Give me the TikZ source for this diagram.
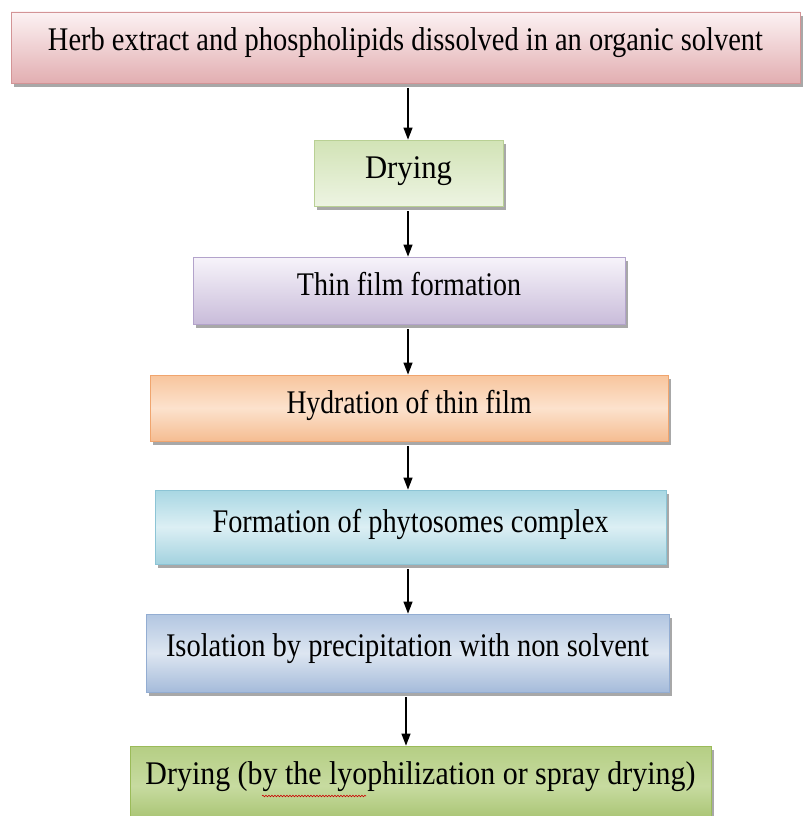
\documentclass[tikz,border=0pt]{standalone}
\usepackage{fontspec}
\setmainfont{Liberation Serif}
\usepackage{graphicx}
\usetikzlibrary{shadows,arrows.meta,decorations.pathmorphing}
\definecolor{pkT}{HTML}{FCF2F3}\definecolor{pkB}{HTML}{E2AEB1}\definecolor{pkD}{HTML}{D39496}
\definecolor{gnT}{HTML}{D2E3B6}\definecolor{gnB}{HTML}{EDF4E2}\definecolor{gnD}{HTML}{B9D094}
\definecolor{puT}{HTML}{F7F4FA}\definecolor{puB}{HTML}{C9BCDA}\definecolor{puD}{HTML}{B3A3CB}
\definecolor{orT}{HTML}{F8C59D}\definecolor{orM}{HTML}{FCE2CD}\definecolor{orB}{HTML}{F5BD92}\definecolor{orD}{HTML}{F0A56E}
\definecolor{tlT}{HTML}{A8D7E3}\definecolor{tlM}{HTML}{DCEFF4}\definecolor{tlB}{HTML}{A3D2DF}\definecolor{tlD}{HTML}{8CC4D5}
\definecolor{blT}{HTML}{B2C6E1}\definecolor{blM}{HTML}{DDE6F1}\definecolor{blB}{HTML}{A5BBDA}\definecolor{blD}{HTML}{93ADD2}
\definecolor{dgT}{HTML}{B5CE84}\definecolor{dgM}{HTML}{C7DBA0}\definecolor{dgB}{HTML}{A3C06A}\definecolor{dgD}{HTML}{9BBB59}
\newcommand\fitw[2]{\resizebox{#1pt}{\height}{#2}}
\tikzset{
  stepbox/.style={draw, line width=0.8pt, inner sep=0pt, text height=21pt, text depth=11pt,
    drop shadow={shadow xshift=3pt, shadow yshift=-4pt, fill=black!75, opacity=0.45},
    font=\fontsize{33}{33}\selectfont},
  arr/.style={-{Triangle[length=12pt,width=9pt]}, line width=1.2pt, black},
}
\begin{document}
\begin{tikzpicture}[x=1pt,y=-1pt]
\useasboundingbox[fill=white] (0,0) rectangle (803,816);
\node[stepbox, draw=pkD, top color=pkT, bottom color=pkB, minimum width=789pt, minimum height=71pt, text depth=15pt] (n1) at (405.5,47.5)
  {\fitw{715}{Herb extract and phospholipids dissolved in an organic solvent}};
\node[stepbox, draw=gnD, top color=gnT, bottom color=gnB, minimum width=189pt, minimum height=66pt] (n2) at (408.5,173)
  {\fitw{87}{Drying}};
\node[stepbox, draw=puD, top color=puT, bottom color=puB, minimum width=432pt, minimum height=67pt] (n3) at (409,290.5)
  {\fitw{224}{Thin film formation}};
\node[stepbox, draw=orD, top color=orT, bottom color=orB, middle color=orM, minimum width=518pt, minimum height=66pt] (n4) at (409,408)
  {\fitw{245}{Hydration of thin film}};
\node[stepbox, draw=tlD, top color=tlT, bottom color=tlB, middle color=tlM, minimum width=511pt, minimum height=74pt] (n5) at (410.5,527)
  {\fitw{396}{Formation of phytosomes complex}};
\node[stepbox, draw=blD, top color=blT, bottom color=blB, middle color=blM, minimum width=523pt, minimum height=78pt, text depth=15pt] (n6) at (407.5,653)
  {\fitw{483}{Isolation by precipitation with non solvent}};
\node[stepbox, draw=dgD, top color=dgT, bottom color=dgB, middle color=dgM, minimum width=581pt, minimum height=80pt, text height=21pt, text depth=25pt] (n7) at (420.5,786)
  {\fitw{550}{Drying (by the lyophilization or spray drying)}};
\coordinate (ax) at (408,0);
\coordinate (bx) at (406,0);
\draw[arr] ([yshift=-5pt]n1.south -| ax) -- (n2.north -| ax);
\draw[arr] ([yshift=-5pt]n2.south -| ax) -- (n3.north -| ax);
\draw[arr] ([yshift=-5pt]n3.south -| ax) -- (n4.north -| ax);
\draw[arr] ([yshift=-5pt]n4.south -| ax) -- (n5.north -| ax);
\draw[arr] ([yshift=-5pt]n5.south -| ax) -- (n6.north -| ax);
\draw[arr] ([yshift=-5pt]n6.south -| bx) -- (n7.north -| bx);
\draw[red!80!black, line width=0.6pt, decorate, decoration={snake, amplitude=0.8pt, segment length=3pt}] (262,796) -- (366,796);
\end{tikzpicture}
\end{document}
